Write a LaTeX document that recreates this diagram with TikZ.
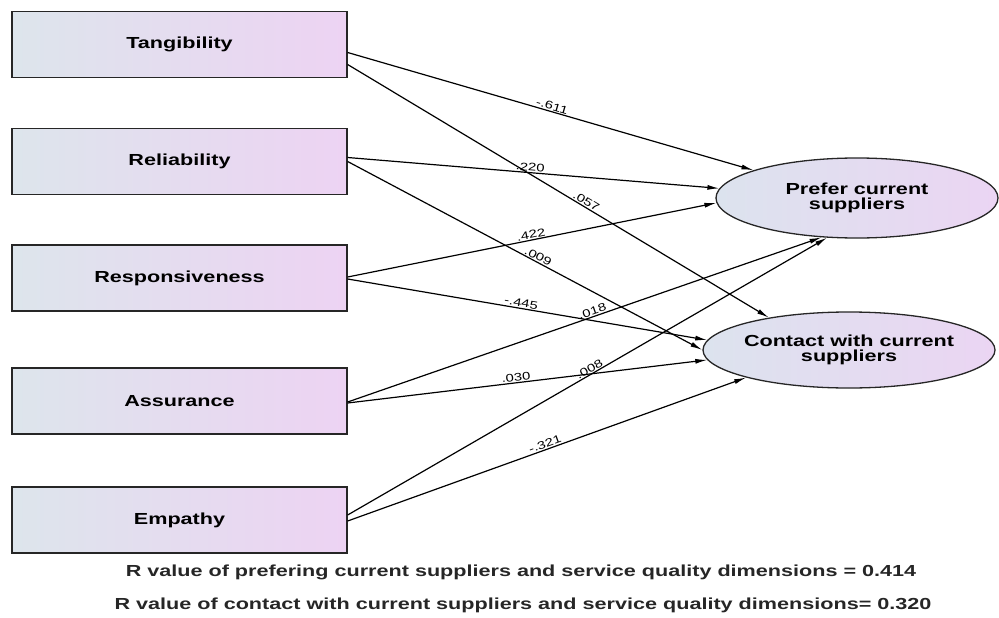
\documentclass[tikz,border=0pt]{standalone}
\usepackage{fontspec}
\setmainfont[FakeStretch=1.35]{Liberation Sans}
\usetikzlibrary{arrows.meta, shapes.geometric, calc}

\definecolor{boxL}{HTML}{DDE5EC}
\definecolor{boxR}{HTML}{EDD3F3}
\definecolor{ellL}{HTML}{DCE3EE}
\definecolor{ellR}{HTML}{EBD5F3}

\begin{document}
\begin{tikzpicture}[
    % GLOBAL CFG
    x=1pt, y=-1pt,
    >={Latex[length=12pt, width=5pt]},
    % Styles
    dim/.style={% For the service quality dimensions
        rectangle,
        draw=black!85,
        line width=1.3pt,
        minimum width=335pt,
        minimum height=66pt,
        left color=boxL,
        right color=boxR,
        font=\fontsize{16}{18}\selectfont\bfseries,
        },
    latent/.style={% For the outcome variables
        ellipse,
        draw=black!85,
        line width=1.3pt,
        inner xsep=-30pt,
        inner ysep=0pt,
        align=center,
        left color=ellL,
        right color=ellR,
        font=\fontsize{16}{14.5}\selectfont\bfseries,
        },
    coef/.style={% For path coefficients
        font=\fontsize{11}{12}\selectfont,
        sloped,
        above,
        pos=0.5,
        inner sep=1pt,
        },
    note/.style={% For the R values below
        font=\fontsize{16}{18}\selectfont\bfseries,
        text=black!85,
        },
    path/.style={% Arrows
        ->,
        line width=1.2pt,
        },
    ]
\useasboundingbox (0,0) rectangle (999,618);
% Draw dimensions
\node [dim] (tang) at (179.5,44.5) {Tangibility};
\node [dim] (reli) at (179.5,161.5) {Reliability};
\node [dim] (resp) at (179.5,278) {Responsiveness};
\node [dim] (assu) at (179.5,401) {Assurance};
\node [dim] (empa) at (179.5,520) {Empathy};
% Draw outcomes
\node [latent, minimum width=282pt, minimum height=80pt] (pref) at (857,198) {Prefer current\\suppliers};
\node [latent, minimum width=292pt, minimum height=76pt] (cont) at (849,350) {Contact with current\\suppliers};
% Connect all
\draw [path] ([yshift=-8pt]tang.east) -- node[coef] {-.611} (pref.165);
\draw [path] ([yshift=-20pt]tang.east) -- node[coef, pos=0.56] {.057} (cont.158);
\draw [path] ([yshift=4pt]reli.east) -- node[coef, pos=0.49] {.220} (pref.176);
\draw [path] (reli.east) -- node[coef, pos=0.53] {.009} (cont.180);
\draw [path] ([yshift=1pt]resp.east) -- node[coef] {.422} (pref.182);
\draw [path] ([yshift=-1pt]resp.east) -- node[coef, pos=0.48] {-.445} (cont.176);
\draw [path] ([yshift=-1pt]assu.east) -- node[coef, pos=0.52] {.018} (pref.228);
\draw [path] ([yshift=-2pt]assu.east) -- node[coef, pos=0.47] {.030} (cont.184);
\draw [path] ([yshift=5pt]empa.east) -- node[coef, pos=0.51] {.008} (pref.233);
\draw [path] ([yshift=-1pt]empa.east) -- node[coef] {-.321} (cont.195);
% R values
\node [note] (rpref) at (521,572) {R value of prefering current suppliers and service quality dimensions = 0.414};
\node [note] (rcont) at (523,605) {R value of contact with current suppliers and service quality dimensions= 0.320};
\end{tikzpicture}
\end{document}
